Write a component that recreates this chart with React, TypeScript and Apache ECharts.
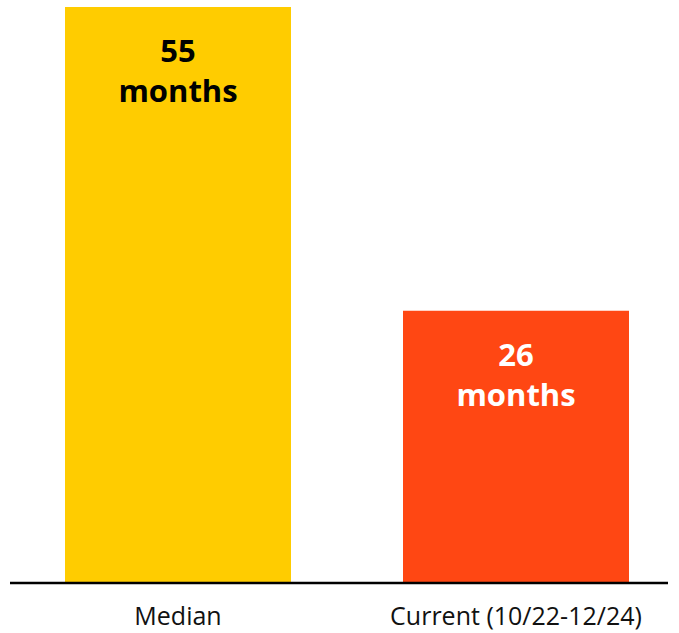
import React, { useEffect, useRef } from "react";
import * as echarts from "echarts";

const categories = ["Median", "Current (10/22-12/24)"];
const values = [55, 26];
const barColors = ["#FFCC00", "#FF4713"];
const labelColors = ["#000000", "#FFFFFF"];

export default function App() {
  const ref = useRef<HTMLDivElement>(null);
  useEffect(() => {
    if (!ref.current) return;
    const chart = echarts.init(ref.current, null, { renderer: "svg" });
    chart.setOption({
      animation: false,
      grid: { left: 9, width: 676, top: 7, bottom: 50, containLabel: false },
      xAxis: {
        type: "category",
        data: categories,
        axisLine: { show: false },
        axisTick: { show: false },
        axisLabel: {
          interval: 0,
          color: "#111",
          fontFamily: "Open Sans",
          fontSize: 25,
          lineHeight: 25,
          margin: 19,
        },
      },
      yAxis: {
        type: "value",
        min: 0,
        max: 55,
        show: false,
        splitLine: { show: false },
      },
      graphic: [
        {
          type: "line",
          shape: { x1: 10, y1: 583, x2: 668, y2: 583 },
          style: { stroke: "#000", lineWidth: 2.5 },
          z: 10,
        },
      ],
      series: [
        {
          type: "bar",
          barWidth: 226,
          data: values.map((v, i) => ({
            value: v,
            itemStyle: { color: barColors[i] },
            label: {
              show: true,
              position: "insideTop",
              distance: 23,
              formatter: "{c}\nmonths",
              color: labelColors[i],
              fontFamily: "Open Sans",
              fontWeight: "bold",
              fontSize: 31,
              lineHeight: 40,
            },
          })),
        },
      ],
    });
    return () => chart.dispose();
  }, []);
  return (
    <div
      style={{
        position: "absolute",
        left: 0,
        top: 0,
        width: 679,
        height: 633,
        overflow: "hidden",
      }}
    >
      <div ref={ref} style={{ width: 700, height: 633 }} />
    </div>
  );
}
